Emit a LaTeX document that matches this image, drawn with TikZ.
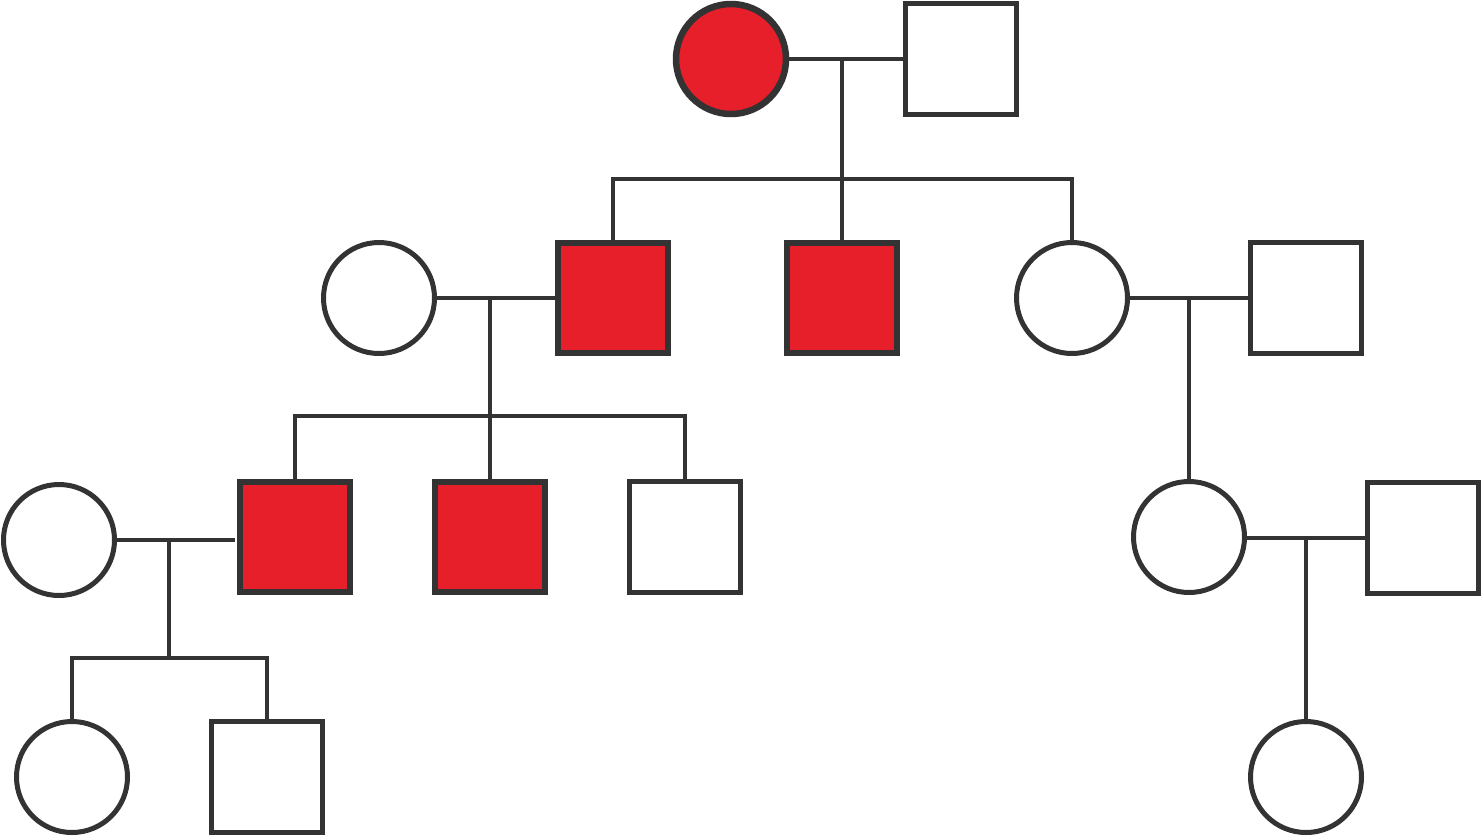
\documentclass[tikz,border=0pt]{standalone}
\usetikzlibrary{calc}
\definecolor{ink}{HTML}{333333}
\definecolor{aff}{HTML}{E61F2B}
\begin{document}
\begin{tikzpicture}[x=1pt,y=-1pt,
  fem/.style={circle,draw=ink,line width=5pt,fill=white,inner sep=0pt,minimum size=111pt},
  mal/.style={rectangle,draw=ink,line width=5pt,fill=white,inner sep=0pt,minimum size=111pt},
  affected/.style={fill=aff,line width=6.5pt,minimum size=110pt},
  link/.style={draw=ink,line width=4.5pt}]
\useasboundingbox (0,0) rectangle (1482,836);
% generation I
\node[fem,affected] (I1) at (731,59) {};
\node[mal] (I2) at (961,59) {};
% generation II
\node[fem] (II1) at (379,298) {};
\node[mal,affected] (II2) at (613,298) {};
\node[mal,affected] (II3) at (842,298) {};
\node[fem] (II4) at (1072,298) {};
\node[mal] (II5) at (1306,298) {};
% generation III
\node[fem] (III1) at (59,540) {};
\node[mal,affected] (III2) at (295,537) {};
\node[mal,affected] (III3) at (490,537) {};
\node[mal] (III4) at (685,537) {};
\node[fem] (III5) at (1189,537) {};
\node[mal] (III6) at (1423,538) {};
% generation IV
\node[fem] (IV1) at (72,777) {};
\node[mal] (IV2) at (267,777) {};
\node[fem] (IV3) at (1306,777) {};
% coordinates
\coordinate (m1) at (842,59);
\coordinate (s1) at (842,179);
\coordinate (m2) at (490,298);
\coordinate (s2) at (490,416);
\coordinate (m3) at (1189,298);
\coordinate (m4) at (169,540);
\coordinate (m4e) at (235,540);
\coordinate (s4) at (169,658);
\coordinate (m5) at (1306,538);
% generation I family
\draw[link] (I1.east) -- (I2.west);
\draw[link] (m1) -- (s1);
\draw[link] (II2.north) |- (s1) -| (II4.north);
\draw[link] (s1) -- (II3.north);
% II1 x II2
\draw[link] (II1.east) -- (II2.west);
\draw[link] (m2) -- (s2);
\draw[link] (III2.north) |- (s2) -| (III4.north);
\draw[link] (s2) -- (III3.north);
% II4 x II5
\draw[link] (II4.east) -- (II5.west);
\draw[link] (m3) -- (III5.north);
% III1 x III2
\draw[link] (III1.east) -- (m4e);
\draw[link] (m4) -- (s4);
\draw[link] (IV1.north) |- (s4) -| (IV2.north);
% III5 x III6
\draw[link] (III5.east |- m5) -- (III6.west);
\draw[link] (m5) -- (IV3.north);
\end{tikzpicture}
\end{document}
